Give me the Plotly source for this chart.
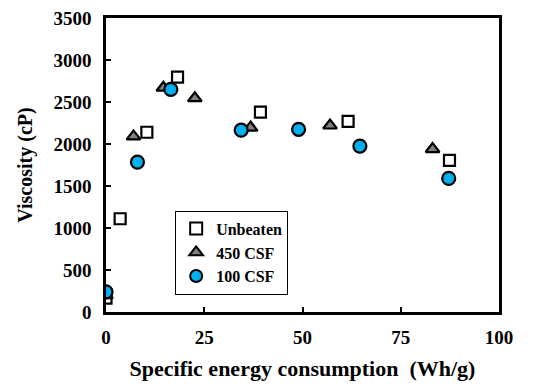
import plotly.graph_objects as go

unbeaten_x = [0, 3.6, 10.4, 18.2, 39.3, 61.6, 87.4]
unbeaten_y = [165, 1110, 2140, 2795, 2380, 2270, 1805]

csf450_x = [0, 7.0, 14.6, 22.6, 36.8, 57.0, 83.1]
csf450_y = [200, 2090, 2670, 2545, 2195, 2220, 1940]

csf100_x = [0, 8.0, 16.5, 34.4, 49.0, 64.6, 87.2]
csf100_y = [240, 1785, 2650, 2165, 2175, 1975, 1590]

font_family = "Liberation Serif, Times New Roman, serif"

fig = go.Figure()
fig.add_trace(go.Scatter(
    x=unbeaten_x, y=unbeaten_y, mode="markers", name="Unbeaten",
    marker=dict(symbol="square", size=11, color="white", line=dict(color="black", width=2.2))))
fig.add_trace(go.Scatter(
    x=csf450_x, y=csf450_y, mode="markers", name="450 CSF",
    marker=dict(symbol="triangle-up", size=12, color="#808080", line=dict(color="black", width=2.2))))
fig.add_trace(go.Scatter(
    x=csf100_x, y=csf100_y, mode="markers", name="100 CSF",
    marker=dict(symbol="circle", size=13, color="#00B0F0", line=dict(color="black", width=2.2))))

axis_common = dict(
    showline=True, linecolor="black", linewidth=2.5, mirror=True,
    ticks="inside", ticklen=5, tickwidth=2, tickcolor="black",
    showgrid=False, zeroline=False, automargin=False,
    ticklabeloverflow="allow",
    tickfont=dict(family=font_family, size=19, color="black", weight="bold"),
)

fig.update_xaxes(range=[0, 100], tickvals=[0, 25, 50, 75, 100],
                 ticklabelstandoff=6,
                 title=dict(text="Specific energy consumption  (Wh/g)",
                            font=dict(family=font_family, size=22, color="black", weight="bold"),
                            standoff=15),
                 **axis_common)
fig.update_yaxes(range=[0, 3500], tickvals=[0, 500, 1000, 1500, 2000, 2500, 3000, 3500],
                 ticklabelstandoff=8,
                 title=dict(text="Viscosity (cP)",
                            font=dict(family=font_family, size=20, color="black", weight="bold"),
                            standoff=16),
                 **axis_common)

fig.update_layout(
    width=538, height=376,
    margin=dict(l=98, r=47, t=10, b=72),
    plot_bgcolor="white", paper_bgcolor="white",
    showlegend=True,
    legend=dict(x=0.176, y=0.345, xanchor="left", yanchor="top",
                bordercolor="black", borderwidth=1, bgcolor="white",
                font=dict(family=font_family, size=16, color="black", weight="bold"),
                itemwidth=30, tracegroupgap=0, itemsizing="constant"),
)

fig.write_html("out.html")
